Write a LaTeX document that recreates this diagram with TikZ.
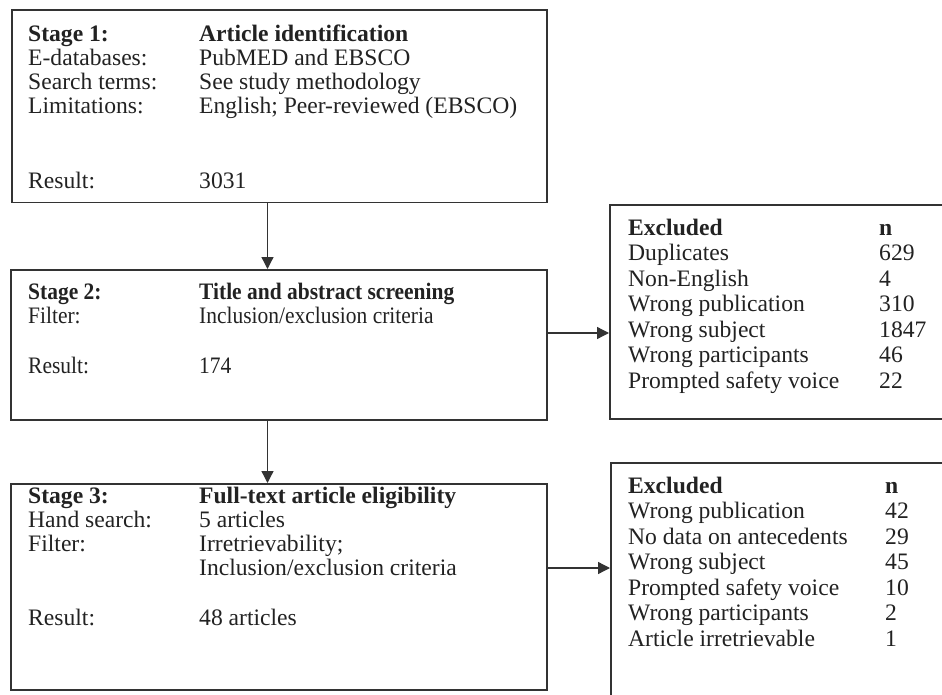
\documentclass[tikz,border=0pt]{standalone}
\usepackage{fontspec}
\setmainfont{Liberation Serif}
\usetikzlibrary{arrows.meta}
\definecolor{ink}{HTML}{222222}
\definecolor{edge}{HTML}{333333}
\newcommand{\narrowtext}[1]{\scalebox{0.91}[1]{#1}}
\begin{document}
\begin{tikzpicture}[x=1pt,y=-1pt,
  box/.style={draw=edge,line width=1.6pt,rectangle,inner sep=0pt,anchor=north west},
  txt/.style={anchor=base west,inner sep=0pt,text=ink,font=\fontsize{23.6}{25}\selectfont},
  arr/.style={draw=edge,line width=1.3pt,-{Triangle[length=12pt,width=12pt]}}]
\useasboundingbox (0,0) rectangle (942,695);
\clip (0,0) rectangle (942,695);
% stage boxes
\node[box,minimum width=535pt,minimum height=192.7pt] (s1) at (11,9) {};
\node[box,minimum width=536pt,minimum height=150pt] (s2) at (10,269) {};
\node[box,minimum width=536pt,minimum height=206pt] (s3) at (10,483) {};
% excluded boxes
\node[box,minimum width=345pt,minimum height=214pt] (e1) at (609,204) {};
\node[box,minimum width=345pt,minimum height=250pt] (e2) at (610,462) {};
% stage 1 text
\node[txt] (a1) at (28,41.7) {\textbf{Stage 1:}};
\node[txt] (b1) at (199,41.7) {\textbf{Article identification}};
\node[txt] (a2) at (28,65.7) {E-databases:};
\node[txt] (b2) at (199,65.7) {PubMED and EBSCO};
\node[txt] (a3) at (28,89.7) {Search terms:};
\node[txt] (b3) at (199,89.7) {See study methodology};
\node[txt] (a4) at (28,113.7) {Limitations:};
\node[txt] (b4) at (199,113.7) {English; Peer-reviewed (EBSCO)};
\node[txt] (a5) at (28,188.4) {Result:};
\node[txt] (b5) at (199,188.4) {3031};
% stage 2 text
\node[txt] (c1) at (28,299.7) {\narrowtext{\textbf{Stage 2:}}};
\node[txt] (d1) at (199,299.7) {\narrowtext{\textbf{Title and abstract screening}}};
\node[txt] (c2) at (28,323.3) {\narrowtext{Filter:}};
\node[txt] (d2) at (199,323.3) {\narrowtext{Inclusion/exclusion criteria}};
\node[txt] (c3) at (28,373) {\narrowtext{Result:}};
\node[txt] (d3) at (199,373) {\narrowtext{174}};
% stage 3 text
\node[txt] (f1) at (28,503) {\textbf{Stage 3:}};
\node[txt] (g1) at (199,503) {\textbf{Full-text article eligibility}};
\node[txt] (f2) at (28,527.5) {Hand search:};
\node[txt] (g2) at (199,527.5) {5 articles};
\node[txt] (f3) at (28,551) {Filter:};
\node[txt] (g3) at (199,551) {Irretrievability;};
\node[txt] (g4) at (199,575) {Inclusion/exclusion criteria};
\node[txt] (f5) at (28,625) {Result:};
\node[txt] (g5) at (199,625) {48 articles};
% excluded 1 text
\node[txt] (h1) at (628,235) {\textbf{Excluded}};
\node[txt] (k1) at (879,235) {\textbf{n}};
\node[txt] (h2) at (628,260.5) {Duplicates};
\node[txt] (k2) at (879,260.5) {629};
\node[txt] (h3) at (628,286) {Non-English};
\node[txt] (k3) at (879,286) {4};
\node[txt] (h4) at (628,311.5) {Wrong publication};
\node[txt] (k4) at (879,311.5) {310};
\node[txt] (h5) at (628,337) {Wrong subject};
\node[txt] (k5) at (879,337) {1847};
\node[txt] (h6) at (628,362.5) {Wrong participants};
\node[txt] (k6) at (879,362.5) {46};
\node[txt] (h7) at (628,388) {Prompted safety voice};
\node[txt] (k7) at (879,388) {22};
% excluded 2 text
\node[txt] (m1) at (628,493) {\textbf{Excluded}};
\node[txt] (p1) at (885,493) {\textbf{n}};
\node[txt] (m2) at (628,518.5) {Wrong publication};
\node[txt] (p2) at (885,518.5) {42};
\node[txt] (m3) at (628,544) {No data on antecedents};
\node[txt] (p3) at (885,544) {29};
\node[txt] (m4) at (628,569.5) {Wrong subject};
\node[txt] (p4) at (885,569.5) {45};
\node[txt] (m5) at (628,595) {Prompted safety voice};
\node[txt] (p5) at (885,595) {10};
\node[txt] (m6) at (628,620.5) {Wrong participants};
\node[txt] (p6) at (885,620.5) {2};
\node[txt] (m7) at (628,646) {Article irretrievable};
\node[txt] (p7) at (885,646) {1};
% connectors
\coordinate (col) at (267.5,0);
\coordinate (r1) at (0,333);
\coordinate (r2) at (0,568);
\draw[arr] (s1.south -| col) -- (s2.north -| col);
\draw[arr] (s2.south -| col) -- (s3.north -| col);
\draw[arr] (s2.east |- r1) -- (e1.west |- r1);
\draw[arr] (s3.east |- r2) -- (e2.west |- r2);
\end{tikzpicture}
\end{document}
